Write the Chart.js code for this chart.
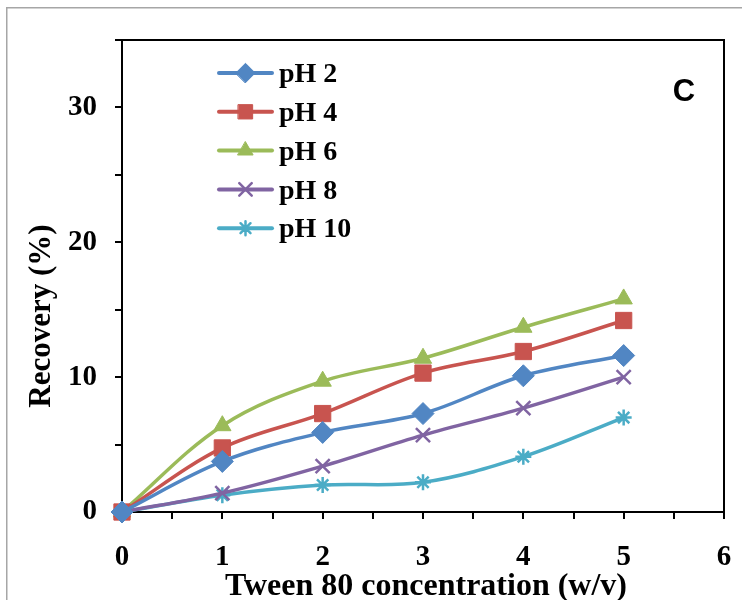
<!DOCTYPE html>
<html>
<head>
<meta charset="utf-8">
<script src="https://cdn.jsdelivr.net/npm/chart.js@4/dist/chart.umd.min.js"></script>
<style>
  html, body { margin: 0; padding: 0; background: #ffffff; overflow: hidden; }
  #wrap { width: 742px; height: 600px; position: relative; }
</style>
</head>
<body>
<div id="wrap"><canvas id="c" width="742" height="600"></canvas></div>
<script>
// ---- data ----
const concentrations = [0, 1, 2, 3, 4, 5];
const seriesNames = ['pH 2', 'pH 4', 'pH 6', 'pH 8', 'pH 10'];
const pH2  = [0, 3.75, 5.9, 7.3, 10.1, 11.6];
const pH4  = [0, 4.75, 7.3, 10.3, 11.9, 14.2];
const pH6  = [0, 6.4, 9.7, 11.4, 13.7, 15.8];
const pH8  = [0, 1.4, 3.4, 5.7, 7.7, 10.0];
const pH10 = [0, 1.25, 2.0, 2.2, 4.1, 7.0];
const xTickLabels = [0, 1, 2, 3, 4, 5, 6];
const yTickLabels = [0, 10, 20, 30];
const panelLabel = 'C';
const xTitle = 'Tween 80 concentration (w/v)';
const yTitle = 'Recovery (%)';

const colors = ['#5186C3', '#C8544F', '#9BBB59', '#8064A2', '#4BACC6'];
const markers = ['rectRot', 'rect', 'triangle', 'crossRot', 'star'];
const markerRadius = [11, 11.5, 10, 10, 8];
const allSeries = [pH2, pH4, pH6, pH8, pH10];

const datasets = allSeries.map((vals, i) => ({
  label: seriesNames[i],
  data: vals.map((v, j) => ({ x: concentrations[j], y: v })),
  borderColor: colors[i],
  backgroundColor: colors[i],
  borderWidth: 3.5,
  pointStyle: markers[i],
  pointRadius: markerRadius[i],
  pointBorderWidth: (markers[i] === 'crossRot' || markers[i] === 'star') ? 2.5 : 1,
  pointBorderColor: colors[i],
  pointBackgroundColor: colors[i],
  tension: 0.35,
  clip: false,
  fill: false
}));

const serif = '"Liberation Serif", "Times New Roman", serif';

function drawMarker(ctx, style, r, x, y, color, bw) {
  ctx.save();
  ctx.fillStyle = color; ctx.strokeStyle = color; ctx.lineWidth = bw;
  ctx.beginPath();
  if (Chart.helpers && Chart.helpers.drawPoint) {
    Chart.helpers.drawPoint(ctx, { pointStyle: style, radius: r, rotation: 0, borderWidth: bw }, x, y);
  }
  ctx.restore();
}

const decorPlugin = {
  id: 'decor',
  beforeDraw(chart) {
    const ctx = chart.ctx;
    ctx.save();
    ctx.fillStyle = '#ffffff';
    ctx.fillRect(0, 0, chart.width, chart.height);
    ctx.strokeStyle = '#a6a6a6';
    ctx.lineWidth = 1.5;
    ctx.strokeRect(6.75, 7.75, 900, 900);
    ctx.restore();
  },
  beforeDatasetsDraw(chart) {
    const ctx = chart.ctx;
    const a = chart.chartArea;
    ctx.save();
    ctx.strokeStyle = '#000000';
    ctx.lineWidth = 2;
    ctx.strokeRect(a.left, a.top, a.right - a.left, a.bottom - a.top);
    ctx.restore();
  },
  afterDatasetsDraw(chart) {
    const ctx = chart.ctx;
    ctx.save();
    // legend drawn from the datasets
    const lx0 = 219, lx1 = 272, ly0 = 73, dy = 38.8;
    chart.data.datasets.forEach((ds, i) => {
      const y = ly0 + i * dy;
      ctx.strokeStyle = ds.borderColor;
      ctx.lineWidth = 4;
      ctx.lineCap = 'round';
      ctx.beginPath(); ctx.moveTo(lx0, y); ctx.lineTo(lx1, y); ctx.stroke();
      drawMarker(ctx, ds.pointStyle, ds.pointRadius * 0.88, (lx0 + lx1) / 2, y, ds.borderColor, ds.pointBorderWidth);
      ctx.fillStyle = '#000000';
      ctx.font = 'bold 28px ' + serif;
      ctx.textAlign = 'left';
      ctx.textBaseline = 'middle';
      ctx.fillText(ds.label, 279, y + 2);
    });
    // panel label
    ctx.fillStyle = '#000000';
    ctx.font = 'bold 31px "Liberation Sans", Arial, sans-serif';
    ctx.textAlign = 'center';
    ctx.textBaseline = 'middle';
    ctx.fillText(panelLabel, 684, 92);
    // x-axis title
    ctx.font = 'bold 32px ' + serif;
    ctx.fillText(xTitle, 426, 587);
    // y-axis title
    ctx.translate(42, 316);
    ctx.rotate(-Math.PI / 2);
    ctx.font = 'bold 31px ' + serif;
    ctx.fillText(yTitle, 0, 0);
    ctx.restore();
  }
};

new Chart(document.getElementById('c'), {
  type: 'line',
  data: { datasets },
  options: {
    responsive: false,
    animation: false,
    layout: { padding: { left: 0, right: 18, top: 40, bottom: 0 } },
    plugins: { legend: { display: false }, tooltip: { enabled: false } },
    scales: {
      x: {
        type: 'linear',
        min: 0, max: 6,
        afterFit(scale) { scale.height = 88; scale.paddingLeft = 0; scale.paddingRight = 0; },
        ticks: {
          stepSize: 0.5,
          autoSkip: false,
          maxRotation: 0,
          padding: 21,
          color: '#000000',
          font: { family: serif, size: 29, weight: 'bold' },
          callback: (v) => xTickLabels.includes(v) ? String(v) : ''
        },
        grid: { drawOnChartArea: false, drawTicks: true, tickLength: 7, color: '#000000', lineWidth: 2 },
        border: { display: true, color: '#000000', width: 2 },
        title: { display: false }
      },
      y: {
        type: 'linear',
        min: 0, max: 35,
        afterFit(scale) { scale.width = 122; scale.paddingTop = 0; scale.paddingBottom = 0; },
        ticks: {
          stepSize: 5,
          autoSkip: false,
          padding: 18,
          color: '#000000',
          font: { family: serif, size: 29, weight: 'bold' },
          callback: (v) => yTickLabels.includes(v) ? String(v) : ''
        },
        grid: { drawOnChartArea: false, drawTicks: true, tickLength: 7, color: '#000000', lineWidth: 2 },
        border: { display: true, color: '#000000', width: 2 },
        title: { display: false }
      }
    }
  },
  plugins: [decorPlugin]
});
</script>
</body>
</html>
